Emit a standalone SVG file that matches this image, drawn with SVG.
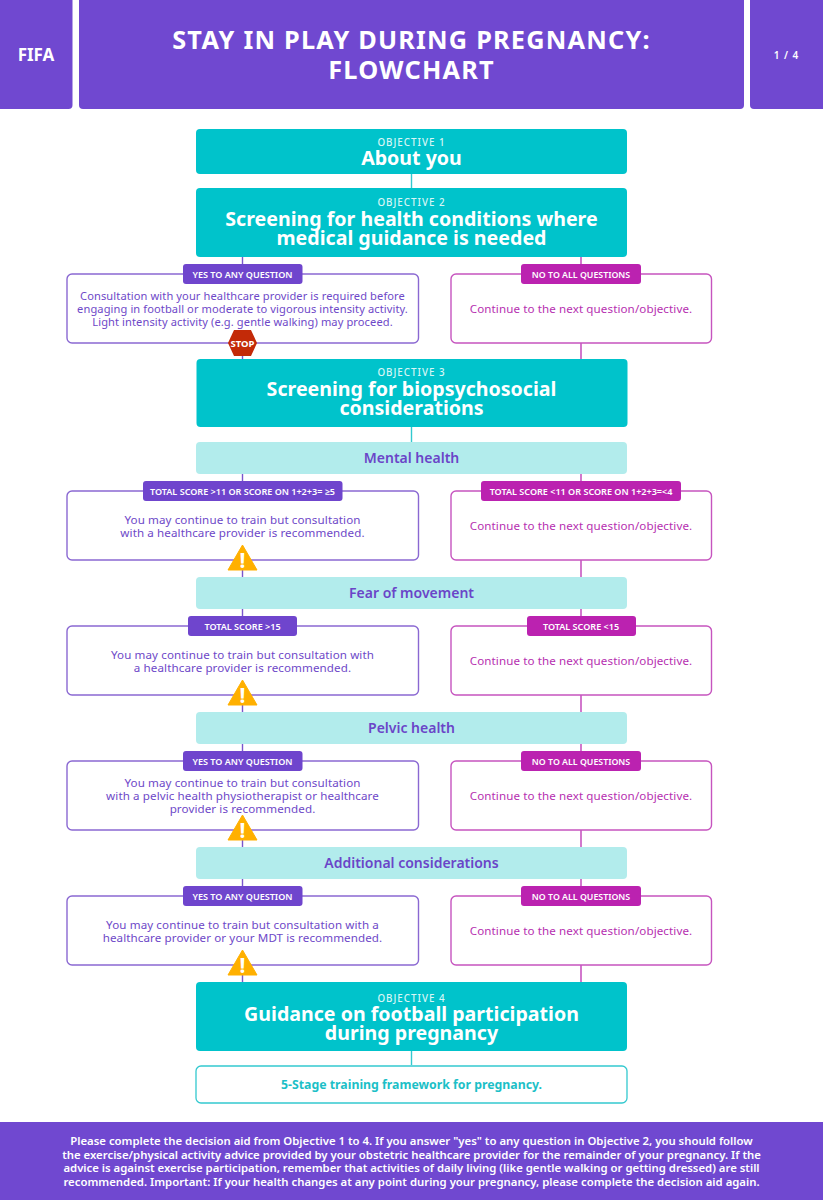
<svg xmlns="http://www.w3.org/2000/svg" width="823" height="1200" viewBox="0 0 823 1200">
<style>
text{font-family:"Noto Sans","Open Sans","Liberation Sans",sans-serif;text-anchor:middle}
.hd{fill:#7048d0}
.teal{fill:#00c3cb}
.pale{fill:#b2ecec}
.bl{fill:#fff;stroke:#8a68d2;stroke-width:1.4}
.br{fill:#fff;stroke:#c654bf;stroke-width:1.4}
.bp{fill:#6f45cd}
.bm{fill:#bb22b0}
.lbl{fill:#fff;font-size:9.05px;font-weight:600}
.lno{fill:#fff;font-size:8.8px;font-weight:600}
.tl{fill:#6e48c8;font-size:11.6px;letter-spacing:.1px}
.ts{fill:#6e48c8;font-size:11.1px;letter-spacing:.1px}
.tr{fill:#b62fb0;font-size:11.6px;letter-spacing:.1px}
.ob{fill:#d8f6f6;font-size:9.8px;font-weight:500;letter-spacing:1px}
.big{fill:#fff;font-size:19.6px;font-weight:700}
.sec{fill:#6a45c8;font-size:14px;font-weight:600}
.foot{fill:#fff;font-size:11.35px;font-weight:600}
.title{fill:#fff;font-size:25.3px;font-weight:700;letter-spacing:1.2px}
.ex{fill:#fff;font-size:21px;font-weight:700}
.cl{fill:none;stroke:#7a56cc;stroke-width:1.4}
.cr{fill:none;stroke:#bf3fb8;stroke-width:1.4}
.ct{fill:none;stroke:#33c9cf;stroke-width:1.4}
</style>
<defs>
<path id="warn" d="M0 0L14.500 25H-14.500Z" fill="#ffb000" stroke="#ffb000" stroke-width="1" stroke-linejoin="round"/>
</defs>
<g id="connectors">
<path class="ct" d="M411.500 174V188M411.500 427V442M411.500 1051V1065"/>
<path class="cl" d="M242.500 257V264M242.500 343V359M242.500 474V481M242.500 560V577M242.500 609V616M242.500 695V712M242.500 744V751M242.500 830V847M242.500 879V886M242.500 965V982"/>
<path class="cr" d="M581 257V264M581 343V359M581 474V481M581 560V577M581 609V616M581 695V712M581 744V751M581 830V847M581 879V886M581 965V982"/>
</g>
<g id="header-fifa"><rect class="hd" x="-6" y="-6" width="78.500" height="115" rx="4"/><text x="36" y="60.500" fill="#fff" font-size="17" font-weight="700">FIFA</text></g>
<g id="header-title"><rect class="hd" x="79" y="-6" width="665" height="115" rx="4"/><text class="title" x="411.500" y="49">STAY IN PLAY DURING PREGNANCY:</text><text class="title" x="411.500" y="78.500">FLOWCHART</text></g>
<g id="header-page"><rect class="hd" x="750" y="-6" width="79" height="115" rx="4"/><text x="786.500" y="59" fill="#fff" font-size="10px" font-weight="600" letter-spacing="1">1 / 4</text></g>

<g id="objective-1"><rect class="teal" x="196" y="129" width="431" height="45" rx="4"/><text class="ob" x="411.500" y="145.500">OBJECTIVE 1</text><text class="big" x="411.500" y="165">About you</text></g>
<g id="objective-2"><rect class="teal" x="196" y="188" width="431" height="69" rx="4"/><text class="ob" x="411.500" y="206">OBJECTIVE 2</text><text class="big" x="411.500" y="225.500">Screening for health conditions where</text><text class="big" x="411.500" y="244.500">medical guidance is needed</text></g>

<g id="o2-yes"><rect class="bl" x="67" y="274" width="351.500" height="69" rx="5"/><rect class="bp" x="183" y="264" width="119.500" height="20" rx="3"/><text class="lbl" x="242.500" y="277.500">YES TO ANY QUESTION</text>
<text class="ts" x="242.500" y="300">Consultation with your healthcare provider is required before</text><text class="ts" x="242.500" y="313">engaging in football or moderate to vigorous intensity activity.</text><text class="ts" x="242.500" y="326">Light intensity activity (e.g. gentle walking) may proceed.</text>
<path d="M234 330H251L257 343L251 356H234L228 343Z" fill="#c32a08"/><text x="242.500" y="346.500" fill="#fff" font-size="9.500" font-weight="700">STOP</text></g>
<g id="o2-no"><rect class="br" x="451" y="274" width="260.500" height="69" rx="5"/><rect class="bm" x="521" y="264" width="120" height="20" rx="3"/><text class="lno" x="581" y="277.500">NO TO ALL QUESTIONS</text><text class="tr" x="581" y="313">Continue to the next question/objective.</text></g>

<g id="objective-3"><rect class="teal" x="196.500" y="359" width="431" height="68" rx="4"/><text class="ob" x="411.500" y="376">OBJECTIVE 3</text><text class="big" x="411.500" y="395.500">Screening for biopsychosocial</text><text class="big" x="411.500" y="414.500">considerations</text></g>

<g id="mental-health"><rect class="pale" x="196" y="442" width="431" height="32" rx="4"/><text class="sec" x="411.500" y="463">Mental health</text></g>
<g id="mental-yes"><rect class="bl" x="67" y="491" width="351.500" height="69" rx="5"/><rect class="bp" x="143" y="481" width="199.500" height="20" rx="3"/><text class="lbl" x="242.500" y="494.500">TOTAL SCORE &gt;11 OR SCORE ON 1+2+3= ≥5</text><text class="tl" x="242.500" y="523.500">You may continue to train but consultation</text><text class="tl" x="242.500" y="536.500">with a healthcare provider is recommended.</text><use href="#warn" x="242.500" y="545"/><text class="ex" x="242.500" y="568">!</text></g>
<g id="mental-no"><rect class="br" x="451" y="491" width="260.500" height="69" rx="5"/><rect class="bm" x="481" y="481" width="200" height="20" rx="3"/><text class="lbl" x="581" y="494.500">TOTAL SCORE &lt;11 OR SCORE ON 1+2+3=&lt;4</text><text class="tr" x="581" y="530">Continue to the next question/objective.</text></g>

<g id="fear-of-movement"><rect class="pale" x="196" y="577" width="431" height="32" rx="4"/><text class="sec" x="411.500" y="598">Fear of movement</text></g>
<g id="fear-yes"><rect class="bl" x="67" y="626" width="351.500" height="69" rx="5"/><rect class="bp" x="188" y="616" width="109" height="20" rx="3"/><text class="lbl" x="242.500" y="629.500">TOTAL SCORE &gt;15</text><text class="tl" x="242.500" y="658.500">You may continue to train but consultation with</text><text class="tl" x="242.500" y="671.500">a healthcare provider is recommended.</text><use href="#warn" x="242.500" y="680"/><text class="ex" x="242.500" y="703">!</text></g>
<g id="fear-no"><rect class="br" x="451" y="626" width="260.500" height="69" rx="5"/><rect class="bm" x="527" y="616" width="109" height="20" rx="3"/><text class="lbl" x="581" y="629.500">TOTAL SCORE &lt;15</text><text class="tr" x="581" y="665">Continue to the next question/objective.</text></g>

<g id="pelvic-health"><rect class="pale" x="196" y="712" width="431" height="32" rx="4"/><text class="sec" x="411.500" y="733">Pelvic health</text></g>
<g id="pelvic-yes"><rect class="bl" x="67" y="761" width="351.500" height="69" rx="5"/><rect class="bp" x="183" y="751" width="119.500" height="20" rx="3"/><text class="lbl" x="242.500" y="764.500">YES TO ANY QUESTION</text><text class="tl" x="242.500" y="787">You may continue to train but consultation</text><text class="tl" x="242.500" y="800">with a pelvic health physiotherapist or healthcare</text><text class="tl" x="242.500" y="813">provider is recommended.</text><use href="#warn" x="242.500" y="815"/><text class="ex" x="242.500" y="838">!</text></g>
<g id="pelvic-no"><rect class="br" x="451" y="761" width="260.500" height="69" rx="5"/><rect class="bm" x="521" y="751" width="120" height="20" rx="3"/><text class="lno" x="581" y="764.500">NO TO ALL QUESTIONS</text><text class="tr" x="581" y="800">Continue to the next question/objective.</text></g>

<g id="additional-considerations"><rect class="pale" x="196" y="847" width="431" height="32" rx="4"/><text class="sec" x="411.500" y="868">Additional considerations</text></g>
<g id="additional-yes"><rect class="bl" x="67" y="896" width="351.500" height="69" rx="5"/><rect class="bp" x="183" y="886" width="119.500" height="20" rx="3"/><text class="lbl" x="242.500" y="899.500">YES TO ANY QUESTION</text><text class="tl" x="242.500" y="928.500">You may continue to train but consultation with a</text><text class="tl" x="242.500" y="941.500">healthcare provider or your MDT is recommended.</text><use href="#warn" x="242.500" y="950"/><text class="ex" x="242.500" y="973">!</text></g>
<g id="additional-no"><rect class="br" x="451" y="896" width="260.500" height="69" rx="5"/><rect class="bm" x="521" y="886" width="120" height="20" rx="3"/><text class="lno" x="581" y="899.500">NO TO ALL QUESTIONS</text><text class="tr" x="581" y="935">Continue to the next question/objective.</text></g>

<g id="objective-4"><rect class="teal" x="196" y="982" width="431" height="69" rx="4"/><text class="ob" x="411.500" y="1002">OBJECTIVE 4</text><text class="big" x="411.500" y="1021">Guidance on football participation</text><text class="big" x="411.500" y="1040">during pregnancy</text></g>
<g id="framework"><rect x="196" y="1066" width="431" height="37" rx="5" fill="#fff" stroke="#33c9cf" stroke-width="1.300"/><text x="411.500" y="1088.500" fill="#1cbfc7" font-size="12.300" font-weight="700">5-Stage training framework for pregnancy.</text></g>

<g id="footer"><rect class="hd" x="-6" y="1122" width="835" height="90" rx="6"/><text class="foot" x="411.500" y="1145">Please complete the decision aid from Objective 1 to 4. If you answer "yes" to any question in Objective 2, you should follow</text><text class="foot" x="411.500" y="1158.500">the exercise/physical activity advice provided by your obstetric healthcare provider for the remainder of your pregnancy. If the</text><text class="foot" x="411.500" y="1172">advice is against exercise participation, remember that activities of daily living (like gentle walking or getting dressed) are still</text><text class="foot" x="411.500" y="1185.500">recommended. Important: If your health changes at any point during your pregnancy, please complete the decision aid again.</text></g>
</svg>
